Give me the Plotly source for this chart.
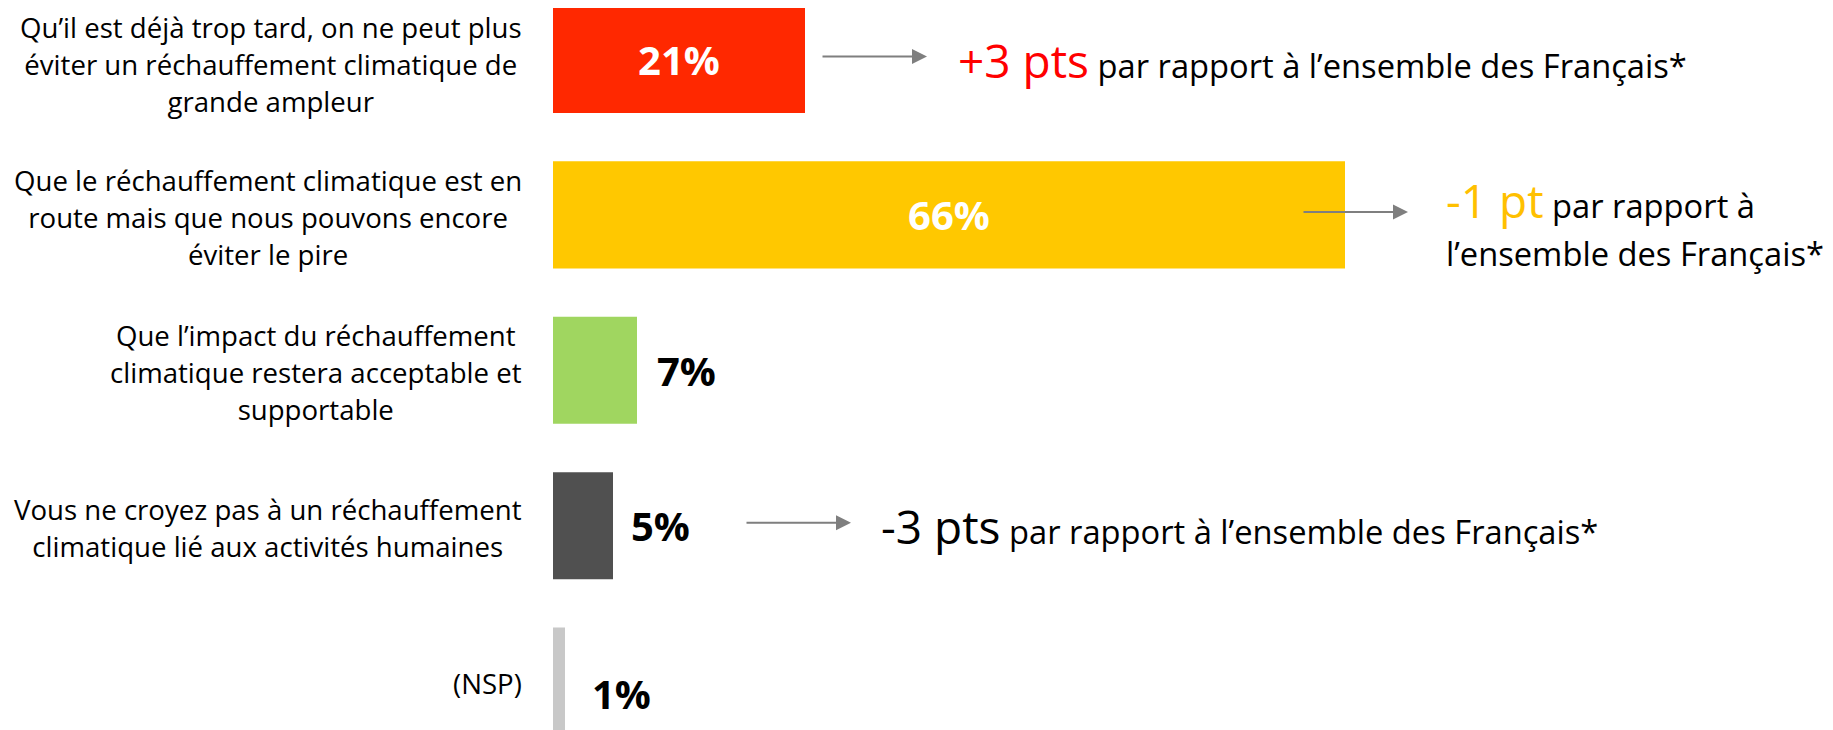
import plotly.graph_objects as go

# ---------------- data ----------------
categories = [
    "Qu’il est déjà trop tard, on ne peut plus<br>éviter un réchauffement climatique de<br>grande ampleur",
    "Que le réchauffement climatique est en<br>route mais que nous pouvons encore<br>éviter le pire",
    "Que l’impact du réchauffement<br>climatique restera acceptable et<br>supportable",
    "Vous ne croyez pas à un réchauffement<br>climatique lié aux activités humaines",
    "(NSP)",
]
values = [21, 66, 7, 5, 1]
value_labels = ["21%", "66%", "7%", "5%", "1%"]
deltas = ["+3 pts", "-1 pt", None, "-3 pts", None]
delta_text = "par rapport à l’ensemble des Français*"

# ---------------- styles ----------------
bar_colors = ["#FF2800", "#FFC800", "#A0D660", "#505050", "#C8C8C8"]
delta_colors = ["#FF0000", "#FFC000", None, "#000000", None]
label_inside = [True, True, False, False, False]
outside_gap = [0, 0, 18, 16, 25]
outside_yshift = [0, 0, 0, 0, -12]
label_yshift = [-4, -2, -2, -2, -2]

# the page body has an 8px margin: compensate so the figure lines up with the window
OFF = 8
W, H = 1833 - OFF, 730 - OFF
ML = 553 - OFF
PW = W - ML
PX_PER_UNIT = 12.0
FONT = "Open Sans"
LABEL_SIZE = 27.6
COMMENT_SIZE = 32.7

# y mapping: bar centre of row 0 at page y 59.5, 155.4 px per row
c0 = 59.5 - OFF
step = 155.4
y_range = [(H - c0) / step, -c0 / step]


def px_to_paper(px_page):
    return (px_page - OFF - ML) / PW


fig = go.Figure()
fig.add_trace(go.Bar(
    x=values,
    y=categories,
    orientation="h",
    marker=dict(color=bar_colors, line=dict(width=0)),
    text=[t if ins else "" for t, ins in zip(value_labels, label_inside)],
    textposition="inside",
    insidetextanchor="middle",
    textfont=dict(family=FONT, size=40, color="white", weight="bold"),
    hoverinfo="skip",
))

annotations = []
# category labels (left)
for cat, ys in zip(categories, label_yshift):
    lines = cat.split("<br>")
    txt = "<br>".join(f"<span style='font-size:{LABEL_SIZE}px'>{l}</span>" for l in lines)
    annotations.append(dict(
        x=px_to_paper(522), xref="paper", xanchor="right",
        y=cat, yref="y", yanchor="middle", yshift=ys,
        text=txt, align="center", showarrow=False,
        borderpad=0, borderwidth=0,
        font=dict(family=FONT, size=28.5, color="black"),
    ))

# outside value labels
for cat, v, t, ins, gap, ys in zip(categories, values, value_labels, label_inside, outside_gap, outside_yshift):
    if ins:
        continue
    annotations.append(dict(
        x=v, xref="x", xanchor="left", xshift=gap,
        y=cat, yref="y", yanchor="middle", yshift=ys,
        text=t, showarrow=False,
        font=dict(family=FONT, size=40, color="black", weight="bold"),
    ))

# arrows + delta comments
arrow_tip_px = [927, 1408, None, 851, None]
text_left_px = [956, 1444, None, 879, None]
two_lines = [False, True, False, False, False]
text_yshift = [0, -8, 0, 0, 0]
for i, cat in enumerate(categories):
    if deltas[i] is None:
        continue
    annotations.append(dict(
        x=px_to_paper(arrow_tip_px[i]), xref="paper",
        y=cat, yref="y", yshift=3,
        ax=-106, ay=0, axref="pixel", ayref="pixel",
        text="", showarrow=True,
        arrowhead=2, arrowsize=1.5, arrowwidth=2, arrowcolor="#7F7F7F",
    ))
    big = f"<span style='color:{delta_colors[i]};font-size:46px'>{deltas[i]}</span>"
    if two_lines[i]:
        first, second = "par rapport à", "l’ensemble des Français*"
        txt = (f"{big}<span style='font-size:{COMMENT_SIZE}px'> {first}</span><br>"
               f"<span style='font-size:{COMMENT_SIZE}px'>{second}</span>")
        fsize = 37
    else:
        txt = f"{big}<span style='font-size:{COMMENT_SIZE}px'> {delta_text}</span>"
        fsize = COMMENT_SIZE
    annotations.append(dict(
        x=px_to_paper(text_left_px[i]), xref="paper", xanchor="left",
        y=cat, yref="y", yanchor="middle", yshift=text_yshift[i],
        text=txt, align="left", showarrow=False,
        font=dict(family=FONT, size=fsize, color="black"),
    ))

fig.update_layout(
    width=W, height=H,
    margin=dict(l=ML, r=0, t=0, b=0),
    paper_bgcolor="white", plot_bgcolor="white",
    showlegend=False,
    bargap=0.311,
    xaxis=dict(range=[0, PW / PX_PER_UNIT], visible=False, fixedrange=True),
    yaxis=dict(type="category", categoryorder="array", categoryarray=categories,
               range=y_range, visible=False, fixedrange=True),
    annotations=annotations,
    font=dict(family=FONT),
)

fig.write_html("out.html", config={"displayModeBar": False})
